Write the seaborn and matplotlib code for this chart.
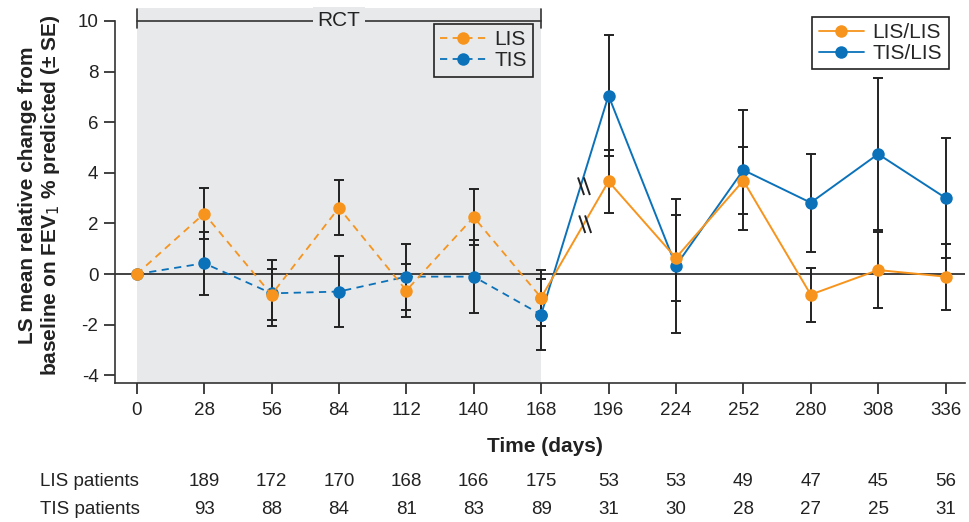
import matplotlib
matplotlib.use("Agg")
import matplotlib.pyplot as plt
import matplotlib.transforms as mtransforms
from matplotlib.lines import Line2D
import seaborn as sns
import pandas as pd
import numpy as np

# ---------------- data ----------------
days = [0, 28, 56, 84, 112, 140, 168, 196, 224, 252, 280, 308, 336]
lis_mean = [0, 2.39, -0.81, 2.62, -0.65, 2.25, -0.93, 3.66, 0.64, 3.69, -0.81, 0.16, -0.10]
lis_se = [0, 1.00, 1.00, 1.09, 1.05, 1.10, 1.10, 1.25, 1.69, 1.32, 1.07, 1.50, 1.30]
tis_mean = [0, 0.43, -0.76, -0.69, -0.10, -0.10, -1.60, 7.05, 0.33, 4.11, 2.82, 4.74, 3.01]
tis_se = [0, 1.24, 1.30, 1.40, 1.30, 1.45, 1.40, 2.40, 2.64, 2.37, 1.93, 3.00, 2.36]
patient_days = [28, 56, 84, 112, 140, 168, 196, 224, 252, 280, 308, 336]
lis_patients = [189, 172, 170, 168, 166, 175, 53, 53, 49, 47, 45, 56]
tis_patients = [93, 88, 84, 81, 83, 89, 31, 30, 28, 27, 25, 31]
rct_end = 168

ORANGE = "#F7941D"
BLUE = "#0B72BA"
SHADE = "#E8E9EB"

sns.set_theme(style="ticks")
plt.rcParams["font.family"] = ["Liberation Sans", "DejaVu Sans"]
plt.rcParams["axes.unicode_minus"] = False

df = pd.DataFrame({
    "day": days * 2,
    "mean": lis_mean + tis_mean,
    "se": lis_se + tis_se,
    "group": ["LIS"] * len(days) + ["TIS"] * len(days),
})
df_rct = df[df["day"] <= rct_end]
df_ext = df[df["day"] >= rct_end]

fig = plt.figure(figsize=(9.7, 5.22), dpi=100)
ax = fig.add_axes([0.1186, 0.2663, 0.876, 0.718])

ax.axvspan(0, rct_end, color=SHADE, zorder=0, lw=0)
ax.axhline(0, color="#333333", lw=1.3, zorder=1)

palette = {"LIS": ORANGE, "TIS": BLUE}
# error bars
for g, col in [("TIS", BLUE), ("LIS", ORANGE)]:
    sub = df[(df["group"] == g) & (df["day"] > 0)]
    ax.errorbar(sub["day"], sub["mean"], yerr=sub["se"], fmt="none",
                ecolor="#222222", elinewidth=1.4, capsize=3.5, capthick=1.4, zorder=2)

sns.lineplot(data=df_ext, x="day", y="mean", hue="group", palette=palette,
             marker="o", markersize=9, markeredgewidth=0, lw=1.4, ax=ax,
             legend=False, zorder=3, hue_order=["TIS", "LIS"])
sns.lineplot(data=df_rct, x="day", y="mean", hue="group", palette=palette,
             marker="o", markersize=9, markeredgewidth=0, lw=1.3, ax=ax,
             legend=False, zorder=3, hue_order=["TIS", "LIS"])
for ln in ax.lines[-2:]:
    ln.set_linestyle((0, (4, 3)))

# break marks (two short slanted strokes crossing each line), sized in pixels
def break_mark(xc, yc):
    x0, y0 = ax.transData.transform((xc, yc))
    inv = ax.transData.inverted()
    for dx in (-2.8, 2.8):
        seg = [(x0 + dx - 2.9, y0 + 9.5), (x0 + dx + 2.9, y0 - 9.5)]
        (xa, ya), (xb, yb) = inv.transform(seg)
        ax.plot([xa, xb], [ya, yb], color="#222222", lw=1.4, zorder=5, solid_capstyle="butt")

break_mark(185.8, 3.47)
break_mark(186.3, 1.97)

# RCT bracket
ax.plot([0, rct_end], [10, 10], color="#333333", lw=1.2, zorder=4, clip_on=False)
ax.plot([0, 0], [9.7, 10.45], color="#333333", lw=1.2, zorder=4, clip_on=False)
ax.plot([rct_end, rct_end], [9.7, 10.45], color="#333333", lw=1.2, zorder=4, clip_on=False)
ax.text(84, 10, "RCT", fontsize=15, ha="center", va="center", color="#222222", zorder=5,
        bbox=dict(facecolor=SHADE, edgecolor="none", pad=3))

ax.set_xlim(-9, 344)
ax.set_ylim(-4.3, 10.5)
ax.spines["left"].set_bounds(-4.3, 10)
sns.despine(ax=ax)
for s in ["left", "bottom"]:
    ax.spines[s].set_linewidth(1.2)
    ax.spines[s].set_color("#333333")
ax.set_xticks(days)
ax.set_yticks(range(-4, 11, 2))
ax.tick_params(axis="both", direction="out", length=8, width=1.3, color="#333333",
               labelsize=13.5, labelcolor="#222222", pad=4)
ax.tick_params(axis="x", pad=6)
ax.set_xlabel("")
ax.set_ylabel("LS mean relative change from\nbaseline on FEV$_1$ % predicted (± SE)",
              fontsize=15, fontweight="bold", color="#222222", labelpad=11, linespacing=1.15)

# legends
leg1_handles = [
    Line2D([], [], color=ORANGE, ls=(0, (4, 3)), marker="o", markersize=9, mew=0, lw=1.3),
    Line2D([], [], color=BLUE, ls=(0, (4, 3)), marker="o", markersize=9, mew=0, lw=1.3),
]
leg1 = ax.legend(leg1_handles, ["LIS", "TIS"], loc="upper right", bbox_to_anchor=(0.492, 0.958),
                 fontsize=15, frameon=True, fancybox=False, edgecolor="#222222",
                 facecolor=SHADE, framealpha=1, borderpad=0.3, labelspacing=0.1,
                 handlelength=2.2, handletextpad=0.4, borderaxespad=0)
leg1.get_frame().set_linewidth(1.2)
ax.add_artist(leg1)
leg2_handles = [
    Line2D([], [], color=ORANGE, ls="-", marker="o", markersize=9, mew=0, lw=1.3),
    Line2D([], [], color=BLUE, ls="-", marker="o", markersize=9, mew=0, lw=1.3),
]
leg2 = ax.legend(leg2_handles, ["LIS/LIS", "TIS/LIS"], loc="upper right", bbox_to_anchor=(0.981, 0.977),
                 fontsize=15, frameon=True, fancybox=False, edgecolor="#222222",
                 facecolor="white", framealpha=1, borderpad=0.3, labelspacing=0.1,
                 handlelength=2.2, handletextpad=0.4, borderaxespad=0)
leg2.get_frame().set_linewidth(1.2)

# x label & patient table
trans = mtransforms.blended_transform_factory(ax.transData, fig.transFigure)
fig.text(545 / 970, 1 - 446 / 522, "Time (days)", fontsize=15, fontweight="bold",
         ha="center", va="center", color="#222222")
row_y = [1 - 482 / 522, 1 - 510 / 522]
for yy, label, vals in [(row_y[0], "LIS patients", lis_patients),
                        (row_y[1], "TIS patients", tis_patients)]:
    fig.text(40 / 970, yy, label, fontsize=13.5, ha="left", va="center", color="#222222")
    for d, v in zip(patient_days, vals):
        ax.text(d, yy, str(v), transform=trans, fontsize=13.5, ha="center", va="center",
                color="#222222")

fig.savefig("out.png", dpi=100)
